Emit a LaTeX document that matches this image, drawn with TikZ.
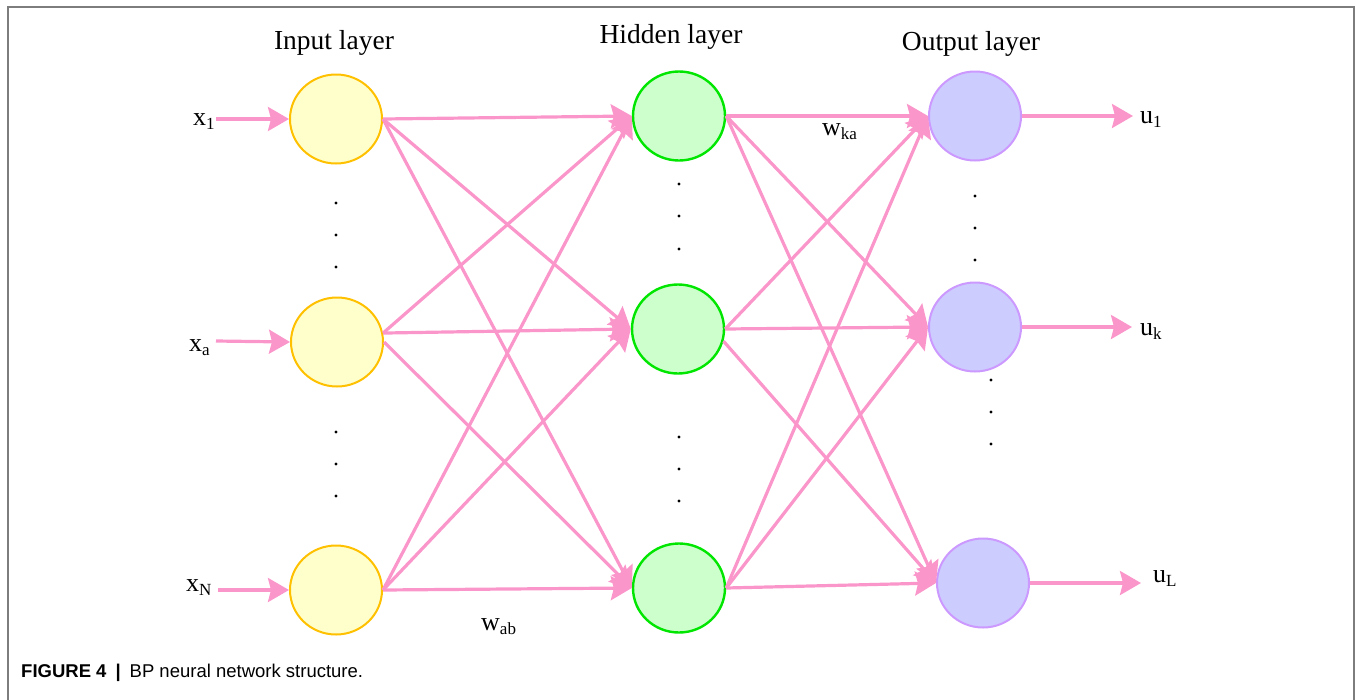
\documentclass[tikz,border=0pt]{standalone}
\usepackage{fontspec}
\setmainfont{Liberation Serif}
\newfontfamily\capfont{Liberation Sans}
\usetikzlibrary{arrows.meta,shapes.geometric}

\definecolor{edgepink}{RGB}{250,150,202}
\definecolor{inborder}{RGB}{255,192,0}
\definecolor{infill}{RGB}{255,255,204}
\definecolor{hidborder}{RGB}{0,230,0}
\definecolor{hidfill}{RGB}{204,255,204}
\definecolor{outborder}{RGB}{204,153,255}
\definecolor{outfill}{RGB}{204,204,255}
\definecolor{framegray}{RGB}{125,125,125}

% variable with a lowered subscript
\newcommand{\varsub}[2]{#1\raisebox{-4pt}{\fontsize{17}{17}\selectfont #2}}

\begin{document}
\begin{tikzpicture}[x=1pt,y=-1pt,
  neuron/.style={ellipse, minimum width=92pt, minimum height=89pt, line width=2pt, inner sep=0pt},
  inneuron/.style={neuron, draw=inborder, fill=infill},
  hidneuron/.style={neuron, draw=hidborder, fill=hidfill, line width=2.4pt},
  outneuron/.style={neuron, draw=outborder, fill=outfill},
  link/.style={draw=edgepink, line width=3.2pt, -{Stealth[length=21pt,width=24pt,inset=3pt]}},
  lbl/.style={font=\fontsize{26}{26}\selectfont, inner sep=0pt, anchor=base west},
  layertitle/.style={font=\fontsize{27.5}{28}\selectfont, inner sep=0pt, anchor=base},
  dotmark/.style={circle, fill=black, inner sep=0pt, minimum size=3.2pt}
]
\useasboundingbox (0,0) rectangle (1356,699);

% frame
\draw[framegray, line width=1.6pt] (8,702) -- (8,7) -- (1354,7) -- (1354,702);

% layer titles
\node[layertitle] (tin)  at (334,49) {Input layer};
\node[layertitle] (thid) at (671,43) {Hidden layer};
\node[layertitle] (tout) at (971,50) {Output layer};

% neurons
\node[inneuron] (i1) at (336,119) {};
\node[inneuron] (i2) at (337,342) {};
\node[inneuron] (i3) at (336,590) {};
\node[hidneuron] (h1) at (679,116) {};
\node[hidneuron] (h2) at (678,329) {};
\node[hidneuron] (h3) at (679,588) {};
\node[outneuron] (o1) at (975,116) {};
\node[outneuron] (o2) at (975,327) {};
\node[outneuron] (o3) at (983,583) {};

% ellipsis dots
\foreach \y [count=\k] in {203,235,267,432,464,496}
  \node[dotmark] (din\k) at (336,\y) {};
\foreach \y [count=\k] in {184,216,249,437,469,501}
  \node[dotmark] (dhid\k) at (679,\y) {};
\foreach \y [count=\k] in {196,228,260}
  \node[dotmark] (dout\k) at (975,\y) {};
\foreach \y [count=\k] in {380,412,444}
  \node[dotmark] (dlow\k) at (991,\y) {};

% input labels and input arrows
\node[lbl] (x1) at (193,125) {\varsub{x}{1}};
\node[lbl] (xa) at (189,351) {\varsub{x}{a}};
\node[lbl] (xn) at (186,591) {\varsub{x}{N}};
\coordinate (sx1) at (216,119);
\coordinate (sxa) at (216,341);
\coordinate (sxn) at (218,590);
\draw[link] (sx1) -- (i1.west);
\draw[link] (sxa) -- (i2.west);
\draw[link] (sxn) -- (i3.west);

% input -> hidden
\foreach \t in {h1,h2,h3} \draw[link] (i1.east) -- (\t.west);
\draw[link] (i2.11) -- (h1.west);
\draw[link] (i2.11) -- (h2.west);
\draw[link] (i2.east) -- (h3.west);
\foreach \t in {h1,h2,h3} \draw[link] (i3.east) -- (\t.west);

% hidden -> output
\foreach \t in {o1,o2,o3} \draw[link] (h1.east) -- (\t.west);
\draw[link] (h2.east) -- (o1.west);
\draw[link] (h2.east) -- (o2.west);
\draw[link] (h2.-15) -- (o3.west);
\foreach \t in {o1,o2,o3} \draw[link] (h3.east) -- (\t.west);

% output arrows and labels
\coordinate (eu1) at (1133,116);
\coordinate (euk) at (1132,327);
\coordinate (eul) at (1141,583);
\draw[link] (o1.east) -- (eu1);
\draw[link] (o2.east) -- (euk);
\draw[link] (o3.east) -- (eul);
\node[lbl] (u1) at (1140,123) {\varsub{u}{1}};
\node[lbl] (uk) at (1140,335) {\varsub{u}{k}};
\node[lbl] (ul) at (1153,582) {\varsub{u}{L}};

% weight labels
\node[lbl] (wka) at (822,135) {\varsub{w}{ka}};
\node[lbl] (wab) at (481,630) {\varsub{w}{ab}};

% caption
\node[inner sep=0pt, anchor=base west, font=\capfont\fontsize{18.5}{18.5}\selectfont] (cap) at (21,677)
  {\textbf{FIGURE 4}\hspace{9pt}\textbf{|}\hspace{9pt}BP neural network structure.};
\end{tikzpicture}
\end{document}
